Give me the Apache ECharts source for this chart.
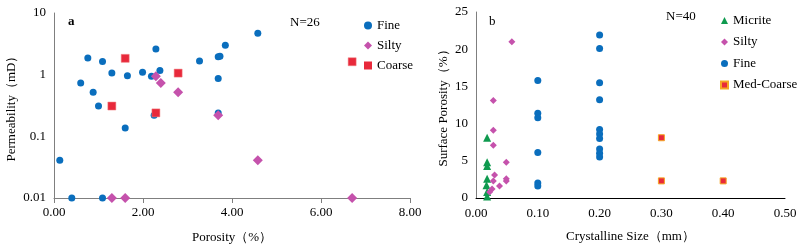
<!DOCTYPE html>
<html lang="en">
<head>
  <meta charset="UTF-8">
  <title>Porosity charts</title>
  <script src="https://cdn.jsdelivr.net/npm/echarts@6/dist/echarts.min.js"></script>
  <style>body{margin:0;background:#fff}</style>
</head>
<body>
  <div id="app" style="width: 807px; height: 250px;"></div>
  <script>
    var app = document.querySelector('#app')
    var mCharts = echarts.init(app)

    // a: porosity (%) vs permeability (mD)
    var aFine = [[0.76,1.86],[1.09,1.64],[2.29,2.6],[1.30,1.06],[1.65,0.96],[1.99,1.09],[2.19,0.94],[2.38,1.17],
      [3.27,1.66],[0.60,0.73],[0.88,0.52],[1.00,0.31],[2.25,0.22],[1.60,0.137],[4.58,4.7],[3.85,3.0],
      [3.69,1.96],[3.73,1.98],[3.69,0.87],[3.69,0.24],[0.13,0.041],[0.40,0.01],[1.09,0.01]]
    var aSilty = [[2.29,0.94],[2.40,0.73],[2.79,0.52],[3.69,0.22],[4.58,0.041],[1.30,0.01],[1.60,0.01],[6.70,0.01]]
    var aCoarse = [[1.60,1.84],[2.79,1.06],[1.30,0.31],[2.29,0.24],[6.70,1.62]]
    var aYTicks = ['0.01', '0.1', '1', '10']

    // b: crystalline size (mm) vs surface porosity (%)
    var bMicrite = [[0.018,8.1],[0.018,4.8],[0.018,4.3],[0.018,2.6],[0.017,1.7],[0.018,0.8],[0.018,0.2]]
    var bSilty = [[0.058,21.0],[0.028,13.1],[0.028,9.1],[0.028,7.1],[0.049,4.8],[0.030,3.1],[0.028,2.3],
      [0.049,2.6],[0.049,2.3],[0.038,1.6],[0.026,1.2],[0.022,0.8]]
    var bFine = [[0.10,15.8],[0.10,11.4],[0.10,10.8],[0.10,6.1],[0.10,2.0],[0.10,1.6],
      [0.20,21.9],[0.20,20.1],[0.20,15.5],[0.20,13.2],[0.20,9.2],[0.20,8.6],[0.20,8.0],
      [0.20,6.6],[0.20,6.0],[0.20,5.5]]
    var bMedCoarse = [[0.30,8.1],[0.30,2.3],[0.40,2.3]]

    var serif = 'Liberation Serif'
    var txt = { fontFamily: serif, fontSize: 13, color: '#000' }

    var option = {
      animation: false,
      textStyle: { fontFamily: serif },
      grid: [
        { left: 54, top: 13, width: 356, height: 185 },
        { left: 476, top: 12, width: 309, height: 186 }
      ],
      xAxis: [
        {
          gridIndex: 0, type: 'value', min: 0, max: 8, interval: 2,
          name: 'Porosity（%）', nameLocation: 'middle', nameGap: 33, nameTextStyle: txt,
          axisLine: { lineStyle: { color: '#7f7f7f' } },
          axisTick: { show: true, length: 5, lineStyle: { color: '#7f7f7f' } },
          axisLabel: Object.assign({ margin: 8, formatter: function (v) { return v.toFixed(2) } }, txt),
          splitLine: { show: false }
        },
        {
          gridIndex: 1, type: 'value', min: 0, max: 0.5, interval: 0.1,
          name: 'Crystalline Size（mm）', nameLocation: 'middle', nameGap: 32, nameTextStyle: txt,
          axisLine: { lineStyle: { color: '#000' } },
          axisTick: { show: false },
          axisLabel: Object.assign({ margin: 9, formatter: function (v) { return v.toFixed(2) } }, txt),
          splitLine: { show: false }
        }
      ],
      yAxis: [
        {
          gridIndex: 0, type: 'log', logBase: 10, min: 0.01, max: 10,
          name: 'Permeability（mD）', nameLocation: 'middle', nameGap: 36, nameTextStyle: txt,
          axisLine: { show: true, lineStyle: { color: '#7f7f7f' } },
          axisTick: { show: false },
          axisLabel: Object.assign({ margin: 8, formatter: function (v) {
            var i = Math.round(Math.log10(v)) + 2
            return aYTicks[i] || ''
          } }, txt),
          splitLine: { show: false }
        },
        {
          gridIndex: 1, type: 'value', min: 0, max: 25, interval: 5,
          name: 'Surface Porosity（%）', nameLocation: 'middle', nameGap: 26, nameTextStyle: txt,
          axisLine: { show: true, lineStyle: { color: '#7f7f7f' } },
          axisTick: { show: false },
          axisLabel: Object.assign({ margin: 8 }, txt),
          splitLine: { show: false }
        }
      ],
      legend: [
        {
          data: ['Fine', 'Silty', 'Coarse'], orient: 'vertical', left: 359, top: 14,
          itemWidth: 8, itemHeight: 8, itemGap: 7, textStyle: txt,
          itemStyle: { borderWidth: 0 }
        },
        {
          data: [{ name: 'Micrite', icon: 'triangle' }, { name: 'Silty', icon: 'diamond' }, 'Fine', 'Med-Coarse'],
          orient: 'vertical', left: 715, top: 9,
          itemWidth: 7, itemHeight: 7, itemGap: 8.5, textStyle: txt
        }
      ],
      graphic: [
        { type: 'text', left: 68, top: 15, style: { text: 'a', font: 'bold 13px ' + serif, fill: '#000' } },
        { type: 'text', left: 290, top: 16, style: { text: 'N=26', font: '13px ' + serif, fill: '#000' } },
        { type: 'text', left: 489, top: 15, style: { text: 'b', font: '13px ' + serif, fill: '#000' } },
        { type: 'text', left: 666, top: 10, style: { text: 'N=40', font: '13px ' + serif, fill: '#000' } }
      ],
      series: [
        { name: 'Fine', type: 'scatter', xAxisIndex: 0, yAxisIndex: 0, data: aFine,
          symbol: 'circle', symbolSize: 7, itemStyle: { color: '#0a6ebd', opacity: 1 } },
        { name: 'Silty', type: 'scatter', xAxisIndex: 0, yAxisIndex: 0, data: aSilty,
          symbol: 'diamond', symbolSize: 10, itemStyle: { color: '#c552ac', opacity: 1 } },
        { name: 'Coarse', type: 'scatter', xAxisIndex: 0, yAxisIndex: 0, data: aCoarse,
          symbol: 'rect', symbolSize: 8, itemStyle: { color: '#e8293b', borderColor: '#f08080', borderWidth: 0.5, opacity: 1 } },
        { name: 'Micrite', type: 'scatter', xAxisIndex: 1, yAxisIndex: 1, data: bMicrite,
          symbol: 'triangle', symbolSize: 8, itemStyle: { color: '#0f9a4f', opacity: 1 } },
        { name: 'Silty', type: 'scatter', xAxisIndex: 1, yAxisIndex: 1, data: bSilty,
          symbol: 'diamond', symbolSize: 7, itemStyle: { color: '#c552ac', opacity: 1 } },
        { name: 'Fine', type: 'scatter', xAxisIndex: 1, yAxisIndex: 1, data: bFine,
          symbol: 'circle', symbolSize: 7, itemStyle: { color: '#0a6ebd', opacity: 1 } },
        { name: 'Med-Coarse', type: 'scatter', xAxisIndex: 1, yAxisIndex: 1, data: bMedCoarse,
          symbol: 'rect', symbolSize: 6, itemStyle: { color: '#e8293b', borderColor: '#f5a623', borderWidth: 1, opacity: 1 } }
      ]
    }
    mCharts.setOption(option)
  </script>
</body>
</html>
